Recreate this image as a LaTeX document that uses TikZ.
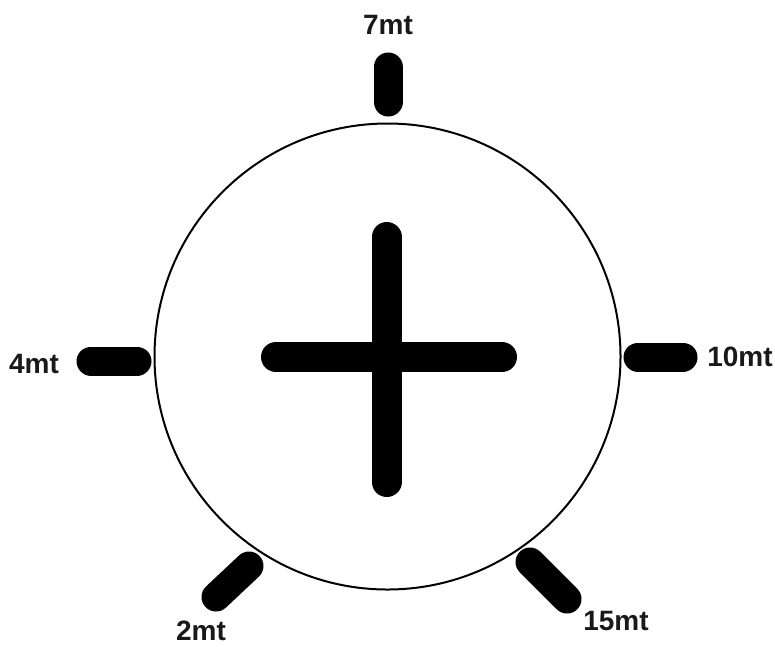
\documentclass[tikz,border=0pt]{standalone}
\usepackage{fontspec}
\setmainfont{Liberation Sans}
\usetikzlibrary{positioning}
\tikzset{
  every picture/.style={x=1pt, y=-1pt},
  dial/.style={draw=black, line width=2pt},
  barra/.style={draw=black, line width=30pt, line cap=round},
  marca/.style={draw=black, line width=29pt, line cap=round},
  etiq/.style={font=\bfseries\fontsize{28}{30}\selectfont, inner sep=0pt, text=black!90},
}
\begin{document}
\begin{tikzpicture}
  \useasboundingbox (0,0) rectangle (775,646);
  \coordinate (centro) at (387.5,356.5);
  \draw[dial] (centro) circle[radius=233];
  % cruz central
  \draw[barra] (276,357) -- (502,357);
  \draw[barra] (386.5,237) -- (386.5,482);
  % marcas alrededor
  \foreach \ini/\fin in {{(388,67)}/{(388,102)},{(91,361)}/{(137,361)},{(638,357)}/{(683,357)},{(216,597)}/{(249,566)},{(530,562)}/{(567,599)}}
    \draw[marca] \ini -- \fin;
  % etiquetas
  \node[etiq] (m7) at (388,25) {7mt};
  \node[etiq] (m4) at (34,364) {4mt};
  \node[etiq] (m10) at (740,357) {10mt};
  \node[etiq] (m2) at (201,631) {2mt};
  \node[etiq] (m15) at (616,621) {15mt};
\end{tikzpicture}
\end{document}
